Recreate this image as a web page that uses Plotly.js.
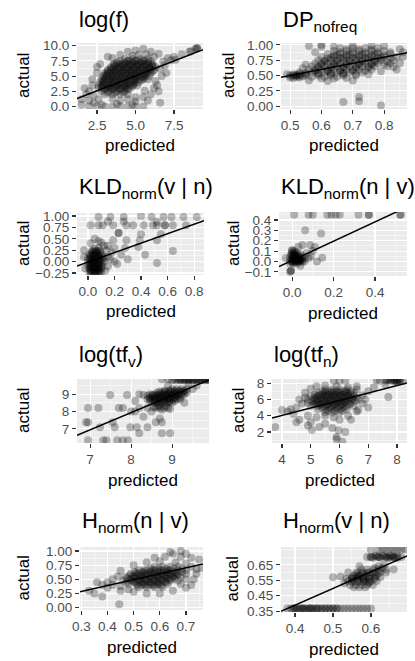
<!DOCTYPE html>
<html><head><meta charset="utf-8">
<script src="https://cdn.plot.ly/plotly-3.0.1.min.js"></script>
<style>html,body{margin:0;padding:0;background:#fff}#chart{width:415px;height:661px}</style>
</head><body><div id="chart"></div>
<script>
// ---------- DATA ----------
const panelTitles = ['log(f)', 'DP<sub>nofreq</sub>', 'KLD<sub>norm</sub>(v | n)', 'KLD<sub>norm</sub>(n | v)',
  'log(tf<sub>v</sub>)', 'log(tf<sub>n</sub>)', 'H<sub>norm</sub>(n | v)', 'H<sub>norm</sub>(v | n)'];
const xAxisLabel = 'predicted';
const yAxisLabel = 'actual';

// [predicted, actual] pairs
const logF = [
[4.0,7.5],[4.5,7.5],[5.0,7.5],[5.5,7.5],[6.0,7.5],
[3.6,7.0],[4.1,7.0],[4.6,7.0],[5.1,7.0],[5.6,7.0],[6.1,7.0],
[3.4,6.5],[3.9,6.5],[4.4,6.5],[4.9,6.5],[5.4,6.5],[5.9,6.5],[6.3,6.5],
[3.2,6.0],[3.7,6.0],[4.2,6.0],[4.7,6.0],[5.2,6.0],[5.7,6.0],[6.2,6.0],
[3.0,5.5],[3.5,5.5],[4.0,5.5],[4.5,5.5],[5.0,5.5],[5.5,5.5],[6.0,5.5],
[2.9,5.0],[3.4,5.0],[3.9,5.0],[4.4,5.0],[4.9,5.0],[5.4,5.0],[5.9,5.0],
[2.8,4.5],[3.3,4.5],[3.8,4.5],[4.3,4.5],[4.8,4.5],[5.3,4.5],[5.8,4.5],
[2.7,4.0],[3.2,4.0],[3.7,4.0],[4.2,4.0],[4.7,4.0],[5.2,4.0],
[2.6,3.5],[3.1,3.5],[3.6,3.5],[4.1,3.5],[4.6,3.5],[5.1,3.5],
[2.6,3.0],[3.1,3.0],[3.6,3.0],[4.1,3.0],[4.6,3.0],
[2.8,2.5],[3.3,2.5],[3.8,2.5],[4.3,2.5],
[3.0,2.0],[3.5,2.0],[4.0,2.0],[4.5,2.0],
[4.3,7.8],[4.8,7.8],[5.3,7.8],[5.8,7.8],
[3.8,7.3],[4.3,7.3],[4.8,7.3],[5.3,7.3],[5.8,7.3],
[3.6,6.8],[4.1,6.8],[4.6,6.8],[5.1,6.8],[5.6,6.8],[6.1,6.8],
[3.4,6.3],[3.9,6.3],[4.4,6.3],[4.9,6.3],[5.4,6.3],[5.9,6.3],
[3.2,5.8],[3.7,5.8],[4.2,5.8],[4.7,5.8],[5.2,5.8],[5.7,5.8],[6.1,5.8],
[3.1,5.3],[3.6,5.3],[4.1,5.3],[4.6,5.3],[5.1,5.3],[5.6,5.3],
[3.0,4.8],[3.5,4.8],[4.0,4.8],[4.5,4.8],[5.0,4.8],[5.5,4.8],
[2.9,4.3],[3.4,4.3],[3.9,4.3],[4.4,4.3],[4.9,4.3],[5.4,4.3],
[2.9,3.8],[3.4,3.8],[3.9,3.8],[4.4,3.8],[4.9,3.8],
[2.8,3.3],[3.3,3.3],[3.8,3.3],[4.3,3.3],[4.8,3.3],
[3.0,2.8],[3.5,2.8],[4.0,2.8],[4.5,2.8],
[3.2,2.3],[3.7,2.3],[4.2,2.3],
[4.55,7.55],[5.05,7.55],[5.55,7.55],
[3.85,7.05],[4.35,7.05],[4.85,7.05],[5.35,7.05],[5.85,7.05],
[3.65,6.55],[4.15,6.55],[4.65,6.55],[5.15,6.55],[5.65,6.55],[6.1,6.55],
[3.45,6.05],[3.95,6.05],[4.45,6.05],[4.95,6.05],[5.45,6.05],[5.95,6.05],
[3.25,5.55],[3.75,5.55],[4.25,5.55],[4.75,5.55],[5.25,5.55],[5.75,5.55],
[3.15,5.05],[3.65,5.05],[4.15,5.05],[4.65,5.05],[5.15,5.05],[5.65,5.05],
[3.05,4.55],[3.55,4.55],[4.05,4.55],[4.55,4.55],[5.05,4.55],[5.55,4.55],
[2.95,4.05],[3.45,4.05],[3.95,4.05],[4.45,4.05],[4.95,4.05],
[2.85,3.55],[3.35,3.55],[3.85,3.55],[4.35,3.55],[4.85,3.55],
[2.85,3.05],[3.35,3.05],[3.85,3.05],[4.35,3.05],
[9.0,9.6],[9.0,9.6],[8.9,9.5],[8.5,9.0],[8.6,9.1],[8.0,8.6],[7.6,7.7],[7.3,7.6],[7.1,8.0],[6.8,7.4],[7.5,8.2],
[6.6,0.6],[6.4,3.5],[6.5,2.5],[7.0,5.5],[6.9,6.8],[6.6,6.2],[6.7,5.0],[6.3,4.2],
[4.0,8.5],[4.5,9.0],[5.0,9.2],[5.5,9.5],[6.0,9.0],[6.5,8.7],[3.5,8.0],[5.2,8.5],[6.2,8.2],[3.2,8.2],[4.8,8.3],[5.7,8.6],
[2.0,0.0],[2.5,0.0],[3.0,0.0],[3.5,0.0],[4.0,0.0],[4.5,0.0],[5.0,0.0],[5.5,0.0],[2.8,0.3],[3.8,0.4],[4.8,0.3],
[1.5,1.2],[1.8,2.0],[2.0,2.5],[1.7,3.0],[2.2,3.5],[2.0,1.0],[2.3,0.6],[1.5,0.3],[2.2,4.5],[2.5,5.5],[2.5,6.5],[2.7,7.0],[2.3,1.8],[2.6,1.2],
[5.5,1.5],[6.0,2.0],[5.8,1.0],[6.2,3.0],[5.0,0.8],[5.0,1.5],[5.6,2.6],[4.5,1.2],[3.5,1.3],[4.0,1.0]
];
const logF_lineX = [1.2, 9.38], logF_lineY = [1.3, 9.34];

const dpNofreq = [
[0.66,0.95],[0.70,0.95],[0.74,0.95],[0.78,0.95],
[0.64,0.90],[0.68,0.90],[0.72,0.90],[0.76,0.90],[0.80,0.90],
[0.62,0.85],[0.66,0.85],[0.70,0.85],[0.74,0.85],[0.78,0.85],[0.82,0.85],
[0.60,0.80],[0.64,0.80],[0.68,0.80],[0.72,0.80],[0.76,0.80],[0.80,0.80],[0.84,0.80],
[0.59,0.75],[0.63,0.75],[0.67,0.75],[0.71,0.75],[0.75,0.75],[0.79,0.75],[0.83,0.75],
[0.58,0.70],[0.62,0.70],[0.66,0.70],[0.70,0.70],[0.74,0.70],[0.78,0.70],[0.82,0.70],
[0.57,0.65],[0.61,0.65],[0.65,0.65],[0.69,0.65],[0.73,0.65],[0.77,0.65],[0.81,0.65],
[0.56,0.60],[0.60,0.60],[0.64,0.60],[0.68,0.60],[0.72,0.60],[0.76,0.60],
[0.53,0.55],[0.57,0.55],[0.61,0.55],[0.65,0.55],[0.69,0.55],[0.73,0.55],
[0.50,0.50],[0.52,0.50],[0.55,0.50],[0.59,0.50],[0.63,0.50],[0.67,0.50],[0.71,0.50],
[0.51,0.46],[0.53,0.47],[0.60,0.45],[0.64,0.45],[0.68,0.46],
[0.68,0.93],[0.72,0.93],[0.76,0.93],
[0.66,0.88],[0.70,0.88],[0.74,0.88],[0.78,0.88],[0.82,0.88],
[0.64,0.83],[0.68,0.83],[0.72,0.83],[0.76,0.83],[0.80,0.83],
[0.62,0.78],[0.66,0.78],[0.70,0.78],[0.74,0.78],[0.78,0.78],[0.82,0.78],
[0.61,0.73],[0.65,0.73],[0.69,0.73],[0.73,0.73],[0.77,0.73],[0.81,0.73],
[0.60,0.68],[0.64,0.68],[0.68,0.68],[0.72,0.68],[0.76,0.68],[0.80,0.68],
[0.59,0.63],[0.63,0.63],[0.67,0.63],[0.71,0.63],[0.75,0.63],
[0.58,0.58],[0.62,0.58],[0.66,0.58],[0.70,0.58],[0.74,0.58],
[0.55,0.53],[0.59,0.53],[0.63,0.53],[0.67,0.53],[0.71,0.53],
[0.51,0.52],[0.53,0.52],[0.52,0.48],[0.54,0.49],[0.57,0.48],[0.61,0.48],[0.65,0.48],
[0.65,0.84],[0.69,0.84],[0.73,0.84],[0.77,0.84],
[0.63,0.79],[0.67,0.79],[0.71,0.79],[0.75,0.79],[0.79,0.79],
[0.61,0.74],[0.65,0.74],[0.69,0.74],[0.73,0.74],[0.77,0.74],
[0.60,0.69],[0.64,0.69],[0.68,0.69],[0.72,0.69],[0.76,0.69],
[0.59,0.64],[0.63,0.64],[0.67,0.64],[0.71,0.64],[0.75,0.64],
[0.58,0.59],[0.62,0.59],[0.66,0.59],[0.70,0.59],
[0.55,0.54],[0.59,0.54],[0.63,0.54],[0.67,0.54],
[0.51,0.50],[0.52,0.51],[0.53,0.50],
[0.67,0.07],[0.72,0.15],[0.72,0.08],[0.79,0.01],[0.60,0.97],[0.60,1.00],[0.84,0.60],[0.83,0.64],[0.86,0.80],[0.85,0.93],
[0.56,0.98],[0.70,0.99],[0.80,0.98],[0.76,0.99],[0.64,0.97],
[0.49,0.52],[0.50,0.47],[0.56,0.42],[0.62,0.41],[0.70,0.42],[0.75,0.52],[0.79,0.57],[0.85,0.70],[0.86,0.88],[0.58,0.88],[0.55,0.68],[0.54,0.62]
];
const dp_lineX = [0.471, 0.873], dp_lineY = [0.47, 0.87];

const kldVN = [
[0.01,-0.22],[0.04,-0.22],[0.07,-0.22],[0.10,-0.22],
[0.01,-0.15],[0.04,-0.15],[0.07,-0.15],[0.10,-0.15],
[0.00,-0.08],[0.03,-0.08],[0.06,-0.08],[0.09,-0.08],
[0.00,0.00],[0.03,0.00],[0.06,0.00],[0.09,0.00],[0.12,0.00],
[0.00,0.08],[0.03,0.08],[0.06,0.08],[0.09,0.08],[0.12,0.08],
[0.01,0.16],[0.04,0.16],[0.07,0.16],[0.10,0.16],
[0.03,0.24],[0.06,0.24],[0.09,0.24],
[0.025,-0.25],[0.055,-0.25],[0.085,-0.25],
[0.025,-0.19],[0.055,-0.19],[0.085,-0.19],
[0.015,-0.11],[0.045,-0.11],[0.075,-0.11],[0.105,-0.11],
[0.015,-0.04],[0.045,-0.04],[0.075,-0.04],[0.105,-0.04],
[0.015,0.04],[0.045,0.04],[0.075,0.04],[0.105,0.04],
[0.02,0.12],[0.05,0.12],[0.08,0.12],[0.11,0.12],
[0.03,0.20],[0.06,0.20],[0.09,0.20],
[0.05,0.28],[0.08,0.30],
[0.02,-0.24],[0.05,-0.24],[0.08,-0.24],[0.02,-0.17],[0.05,-0.17],[0.08,-0.17],
[0.02,-0.10],[0.05,-0.10],[0.08,-0.10],[0.02,-0.02],[0.05,-0.02],[0.08,-0.02],
[0.02,0.06],[0.05,0.06],[0.08,0.06],[0.02,0.14],[0.05,0.14],[0.08,0.14],[0.04,0.22],[0.07,0.22],
[0.15,0.10],[0.18,0.20],[0.20,0.00],[0.12,0.35],[0.08,0.45],[0.05,0.50],[0.15,-0.10],[0.20,0.30],[0.25,0.15],[0.02,0.40],
[-0.03,0.10],[0.13,-0.20],[0.22,-0.05],[-0.02,-0.15],[0.14,0.25],[0.17,0.05],[0.10,0.42],[0.28,0.30],[0.30,0.05],[-0.03,0.25],
[0.08,0.98],[0.17,0.98],[0.27,0.98],[0.40,1.00],[0.48,0.98],[0.57,0.98],[0.63,0.98],[0.72,0.98],[0.82,0.98],
[0.02,0.80],[0.08,0.80],[0.11,0.80],[0.19,0.80],[0.29,0.80],[0.34,0.80],[0.42,0.80],[0.49,0.80],[0.52,0.80],[0.58,0.80],[0.58,0.80],[0.64,0.80],[0.74,0.80],
[0.15,0.88],[0.27,0.88],[0.52,0.87],[0.23,0.63],[0.23,0.63],[0.40,0.60],[0.55,0.60],
[0.19,0.47],[0.29,0.47],[0.39,0.47],[0.52,0.47],[0.43,0.15],[0.52,-0.03],[0.64,0.23],[0.15,0.35],[0.38,0.32]
];
const kldVN_lineX = [-0.083, 0.875], kldVN_lineY = [-0.096, 0.897];

const kldNV = [
[-0.01,-0.02],[0.005,-0.02],[0.02,-0.02],[0.035,-0.01],[0.05,0.0],
[-0.01,0.01],[0.005,0.01],[0.02,0.01],[0.035,0.01],[0.05,0.02],[0.06,0.03],
[-0.01,0.04],[0.005,0.04],[0.02,0.04],[0.035,0.04],[0.05,0.05],
[-0.005,0.07],[0.01,0.07],[0.025,0.07],[0.04,0.07],
[0.0,0.10],[0.0,0.11],[0.01,0.10],[0.02,0.09],
[0.0,0.0],[0.015,0.0],[0.03,0.0],[0.0,0.025],[0.015,0.025],[0.03,0.025],[0.045,0.03],
[0.0,0.055],[0.015,0.055],[0.03,0.055],[0.01,0.085],[0.005,-0.005],[0.025,0.015],[0.04,0.02],
[0.0,0.0],[0.01,0.02],[0.02,0.03],[0.01,0.05],[0.0,0.08],[0.03,0.01],[0.02,0.0],[0.005,0.03],[0.04,0.01],[0.015,0.06],
[-0.005,-0.09],[-0.005,-0.09],[-0.01,-0.10],
[0.01,0.45],[0.08,0.45],[0.10,0.45],[0.17,0.45],[0.19,0.45],[0.21,0.45],[0.23,0.45],[0.32,0.45],[0.37,0.45],[0.37,0.45],[0.52,0.45],[0.525,0.45],
[0.063,0.30],[0.14,0.27],[0.05,0.16],[0.087,0.16],[0.145,0.035],[0.12,0.0],[0.06,0.0],[0.08,0.03],[0.10,0.10],[0.03,0.14],
[0.07,0.08],[0.04,-0.04],[-0.03,0.03],[0.09,0.05],[0.11,0.14]
];
const kldNV_lineX = [-0.063, 0.554], kldNV_lineY = [-0.049, 0.525];

const logTfV = [
[9.0,9.3],[9.12,9.3],[9.24,9.3],[9.36,9.3],
[8.64,9.1],[8.76,9.1],[8.88,9.1],[9.0,9.1],[9.12,9.1],[9.24,9.1],[9.36,9.1],
[8.4,8.9],[8.52,8.9],[8.64,8.9],[8.76,8.9],[8.88,8.9],[9.0,8.9],[9.12,8.9],[9.24,8.9],
[8.4,8.7],[8.52,8.7],[8.64,8.7],[8.76,8.7],[8.88,8.7],[9.0,8.7],[9.12,8.7],
[8.52,8.5],[8.64,8.5],[8.76,8.5],[8.88,8.5],[9.0,8.5],
[8.82,9.2],[8.94,9.2],[9.06,9.2],[9.18,9.2],[9.30,9.2],
[8.46,9.0],[8.58,9.0],[8.70,9.0],[8.82,9.0],[8.94,9.0],[9.06,9.0],[9.18,9.0],[9.30,9.0],
[8.46,8.8],[8.58,8.8],[8.70,8.8],[8.82,8.8],[8.94,8.8],[9.06,8.8],[9.18,8.8],
[8.46,8.6],[8.58,8.6],[8.70,8.6],[8.82,8.6],[8.94,8.6],[9.06,8.6],
[8.7,9.15],[8.82,9.15],[8.94,9.15],[9.06,9.15],[9.18,9.15],[9.3,9.15],
[8.52,8.95],[8.64,8.95],[8.76,8.95],[8.88,8.95],[9.0,8.95],[9.12,8.95],
[8.46,8.75],[8.58,8.75],[8.7,8.75],[8.82,8.75],[8.94,8.75],[9.06,8.75],
[8.58,8.55],[8.7,8.55],[8.82,8.55],[8.94,8.55],
[8.6,8.2],[8.7,8.2],[8.8,8.2],[8.9,8.2],[8.65,8.3],[8.75,8.1],[8.85,8.3],[8.95,8.15],[8.55,8.25],[8.7,8.35],
[9.0,9.8],[9.1,9.8],[9.2,9.8],[9.3,9.8],[9.4,9.8],[9.5,9.8],[9.6,9.8],[9.7,9.8],[9.8,9.8],[9.9,9.8],
[9.05,9.85],[9.15,9.85],[9.25,9.85],[9.35,9.85],[9.45,9.85],[9.55,9.85],[9.65,9.85],[9.75,9.85],[9.85,9.85],[8.9,9.85],[8.75,9.85],
[9.2,9.82],[9.3,9.82],[9.4,9.82],[9.5,9.82],[9.6,9.82],[9.7,9.82],[9.8,9.82],[9.9,9.82],
[7.49,8.95],[7.9,8.95],[8.3,8.95],[7.2,8.2],[7.7,8.2],[7.8,8.2],[8.2,8.2],[8.4,8.2],[8.0,8.0],[8.1,8.0],
[6.9,7.38],[6.95,7.38],[7.55,7.38],[8.6,7.38],[8.75,7.38],[7.24,7.1],[7.6,7.1],[7.98,7.1],[8.14,7.1],[8.4,7.1],
[8.2,6.75],[8.75,6.75],[8.95,6.75],[6.95,6.35],[7.32,6.35],[7.4,6.35],[7.66,6.35],[7.8,6.35],[7.93,6.35],[6.95,8.2],
[8.5,8.0],[8.7,7.6],[8.3,7.7],[9.3,8.5],[9.5,9.3],[9.6,9.5],[9.2,8.7],[8.1,8.6],[8.2,9.0],[9.4,9.6],[8.9,9.5]
];
const logTfV_lineX = [6.68, 9.9], logTfV_lineY = [6.63, 9.82];

const logTfN = [
[5.5,7.2],[5.75,7.2],[6.0,7.2],[6.25,7.2],
[5.25,6.8],[5.5,6.8],[5.75,6.8],[6.0,6.8],[6.25,6.8],[6.5,6.8],
[5.0,6.4],[5.25,6.4],[5.5,6.4],[5.75,6.4],[6.0,6.4],[6.25,6.4],[6.5,6.4],
[4.9,6.0],[5.15,6.0],[5.4,6.0],[5.65,6.0],[5.9,6.0],[6.15,6.0],[6.4,6.0],[6.65,6.0],
[4.9,5.6],[5.15,5.6],[5.4,5.6],[5.65,5.6],[5.9,5.6],[6.15,5.6],[6.4,5.6],
[5.0,5.2],[5.25,5.2],[5.5,5.2],[5.75,5.2],[6.0,5.2],[6.25,5.2],[6.5,5.2],
[5.25,4.8],[5.5,4.8],[5.75,4.8],[6.0,4.8],[6.25,4.8],
[5.5,4.4],[5.75,4.4],[6.0,4.4],
[5.4,7.0],[5.65,7.0],[5.9,7.0],[6.15,7.0],[6.4,7.0],
[5.15,6.6],[5.4,6.6],[5.65,6.6],[5.9,6.6],[6.15,6.6],[6.4,6.6],
[5.1,6.2],[5.35,6.2],[5.6,6.2],[5.85,6.2],[6.1,6.2],[6.35,6.2],[6.6,6.2],
[5.05,5.8],[5.3,5.8],[5.55,5.8],[5.8,5.8],[6.05,5.8],[6.3,5.8],[6.55,5.8],
[5.1,5.4],[5.35,5.4],[5.6,5.4],[5.85,5.4],[6.1,5.4],[6.35,5.4],
[5.4,5.0],[5.65,5.0],[5.9,5.0],[6.15,5.0],
[5.6,4.6],[5.85,4.6],[6.1,4.6],
[5.5,6.9],[5.75,6.9],[6.0,6.9],[6.25,6.9],
[5.3,6.5],[5.55,6.5],[5.8,6.5],[6.05,6.5],[6.3,6.5],
[5.2,6.1],[5.45,6.1],[5.7,6.1],[5.95,6.1],[6.2,6.1],[6.45,6.1],
[5.2,5.7],[5.45,5.7],[5.7,5.7],[5.95,5.7],[6.2,5.7],
[5.3,5.3],[5.55,5.3],[5.8,5.3],[6.05,5.3],
[4.5,5.0],[4.7,5.5],[4.3,4.8],[4.8,6.2],[4.9,4.0],[4.6,3.5],[5.0,3.2],[5.2,3.8],[4.6,6.0],[4.4,4.2],[4.2,4.5],[4.0,4.7],
[4.8,6.8],[5.0,7.3],[5.2,7.6],[5.5,7.7],[5.9,7.6],[6.3,7.5],[6.6,7.2],[6.8,6.5],[7.0,7.0],[6.9,6.0],[7.2,7.5],[7.0,5.0],
[6.6,7.6],[6.8,5.5],[6.6,4.5],[6.3,4.0],[5.8,3.8],[5.5,4.0],[6.0,3.5],
[3.76,2.6],[5.04,2.25],[5.3,2.6],[5.75,2.5],[5.97,2.2],[5.9,1.4],[5.9,1.1],[6.65,4.7],[6.4,3.5],[4.9,2.8],[5.5,3.0],[6.2,2.0],[6.1,0.8],[4.5,3.2],
[5.8,8.3],[6.0,8.3],[6.2,8.3],[7.4,8.3],[7.6,8.3],[7.8,8.4],[8.0,8.3],[8.1,8.4],[7.9,8.2],[7.7,8.4],[8.2,8.3],[7.3,8.35],
[7.8,8.35],[7.95,8.3],[8.1,8.3],[7.65,8.35],
[7.7,6.3],[7.6,7.8],[8.0,8.2],[7.9,8.4],[8.05,8.35]
];
const logTfN_lineX = [3.65, 8.35], logTfN_lineY = [3.72, 8.0];

const hNV = [
[0.58,0.72],[0.61,0.72],[0.64,0.72],[0.67,0.72],
[0.52,0.66],[0.55,0.66],[0.58,0.66],[0.61,0.66],[0.64,0.66],[0.67,0.66],[0.70,0.66],
[0.49,0.60],[0.52,0.60],[0.55,0.60],[0.58,0.60],[0.61,0.60],[0.64,0.60],[0.67,0.60],[0.70,0.60],
[0.47,0.54],[0.50,0.54],[0.53,0.54],[0.56,0.54],[0.59,0.54],[0.62,0.54],[0.65,0.54],[0.68,0.54],
[0.46,0.48],[0.49,0.48],[0.52,0.48],[0.55,0.48],[0.58,0.48],[0.61,0.48],[0.64,0.48],[0.67,0.48],
[0.48,0.42],[0.51,0.42],[0.54,0.42],[0.57,0.42],[0.60,0.42],[0.63,0.42],
[0.52,0.36],[0.55,0.36],[0.58,0.36],[0.61,0.36],
[0.565,0.69],[0.595,0.69],[0.625,0.69],[0.655,0.69],[0.685,0.69],
[0.505,0.63],[0.535,0.63],[0.565,0.63],[0.595,0.63],[0.625,0.63],[0.655,0.63],[0.685,0.63],
[0.485,0.57],[0.515,0.57],[0.545,0.57],[0.575,0.57],[0.605,0.57],[0.635,0.57],[0.665,0.57],
[0.475,0.51],[0.505,0.51],[0.535,0.51],[0.565,0.51],[0.595,0.51],[0.625,0.51],[0.655,0.51],
[0.475,0.45],[0.505,0.45],[0.535,0.45],[0.565,0.45],[0.595,0.45],[0.625,0.45],
[0.515,0.39],[0.545,0.39],[0.575,0.39],[0.605,0.39],
[0.54,0.66],[0.57,0.66],[0.60,0.66],[0.63,0.66],
[0.51,0.61],[0.54,0.61],[0.57,0.61],[0.60,0.61],[0.63,0.61],[0.66,0.61],
[0.50,0.56],[0.53,0.56],[0.56,0.56],[0.59,0.56],[0.62,0.56],[0.65,0.56],
[0.49,0.51],[0.52,0.51],[0.55,0.51],[0.58,0.51],[0.61,0.51],[0.64,0.51],
[0.50,0.46],[0.53,0.46],[0.56,0.46],[0.59,0.46],[0.62,0.46],
[0.53,0.41],[0.56,0.41],[0.59,0.41],
[0.65,0.95],[0.68,1.0],[0.62,0.9],[0.72,0.88],[0.70,0.95],[0.75,0.85],[0.33,0.30],[0.35,0.25],[0.38,0.20],[0.40,0.35],
[0.42,0.40],[0.45,0.38],[0.36,0.45],[0.445,0.06],[0.60,0.25],[0.65,0.30],[0.70,0.35],[0.72,0.40],[0.55,0.25],[0.50,0.28],
[0.74,0.60],[0.76,0.70],[0.73,0.50],[0.44,0.55],[0.42,0.50],[0.40,0.45],[0.38,0.40],[0.45,0.65],[0.50,0.75],[0.55,0.80],
[0.60,0.82],[0.66,0.80],[0.70,0.78],[0.72,0.72],[0.74,0.68],[0.45,0.30],[0.48,0.32],[0.68,0.42],[0.70,0.50],[0.58,0.88],
[0.64,0.98],[0.68,0.90]
];
const hNV_lineX = [0.295, 0.765], hNV_lineY = [0.28, 0.77];

const hVN = [
[0.38,0.367],[0.39,0.367],[0.40,0.367],[0.41,0.367],[0.42,0.367],[0.43,0.367],[0.44,0.367],[0.45,0.367],[0.46,0.367],[0.47,0.367],
[0.48,0.367],[0.49,0.367],[0.50,0.367],[0.51,0.367],[0.52,0.367],[0.53,0.367],[0.54,0.367],[0.55,0.367],[0.56,0.367],[0.57,0.367],
[0.58,0.367],[0.59,0.367],[0.60,0.367],[0.395,0.367],[0.405,0.367],[0.415,0.367],[0.425,0.367],[0.435,0.367],[0.445,0.367],[0.455,0.367],
[0.47,0.367],[0.49,0.367],[0.51,0.367],[0.40,0.37],[0.42,0.37],[0.44,0.37],[0.46,0.37],[0.48,0.37],[0.50,0.37],
[0.575,0.62],[0.59,0.62],[0.605,0.62],[0.62,0.62],
[0.56,0.595],[0.575,0.595],[0.59,0.595],[0.605,0.595],[0.62,0.595],
[0.55,0.57],[0.565,0.57],[0.58,0.57],[0.595,0.57],[0.61,0.57],[0.625,0.57],
[0.54,0.545],[0.555,0.545],[0.57,0.545],[0.585,0.545],[0.60,0.545],[0.615,0.545],
[0.545,0.52],[0.56,0.52],[0.575,0.52],[0.59,0.52],[0.605,0.52],
[0.555,0.505],[0.57,0.505],[0.585,0.505],[0.565,0.58],[0.58,0.555],[0.595,0.53],[0.55,0.56],
[0.565,0.60],[0.58,0.60],[0.595,0.60],[0.61,0.60],[0.555,0.58],[0.57,0.58],[0.585,0.58],[0.60,0.58],[0.615,0.58],
[0.55,0.56],[0.565,0.56],[0.58,0.56],[0.595,0.56],[0.61,0.56],[0.55,0.54],[0.565,0.54],[0.58,0.54],[0.595,0.54],
[0.63,0.63],[0.62,0.64],[0.61,0.63],[0.635,0.65],[0.64,0.62],[0.625,0.605],
[0.59,0.70],[0.60,0.70],[0.61,0.705],[0.62,0.70],[0.63,0.705],[0.64,0.70],[0.65,0.705],[0.66,0.70],[0.67,0.705],[0.68,0.70],
[0.605,0.695],[0.625,0.695],[0.645,0.695],[0.665,0.695],[0.615,0.71],[0.635,0.71],[0.655,0.71],
[0.60,0.70],[0.62,0.70],[0.64,0.70],[0.66,0.70],[0.65,0.695],[0.67,0.695],
[0.60,0.748],[0.62,0.748],[0.63,0.75],[0.64,0.748],[0.65,0.75],[0.66,0.748],[0.67,0.748],[0.68,0.748],[0.69,0.75],
[0.50,0.57],[0.52,0.575],[0.535,0.56],[0.54,0.60],[0.64,0.60],[0.66,0.62],[0.53,0.53],[0.57,0.64]
];
const hVN_lineX = [0.363, 0.695], hVN_lineY = [0.35, 0.708];

// tick values per panel
const logF_xTicks = [2.5, 5.0, 7.5], logF_yTicks = [0, 2.5, 5, 7.5, 10];
const dp_xTicks = [0.5, 0.6, 0.7, 0.8], dp_yTicks = [0, 0.25, 0.5, 0.75, 1];
const kldVN_xTicks = [0, 0.2, 0.4, 0.6, 0.8], kldVN_yTicks = [-0.25, 0, 0.25, 0.5, 0.75, 1];
const kldNV_xTicks = [0, 0.2, 0.4], kldNV_yTicks = [-0.1, 0, 0.1, 0.2, 0.3, 0.4];
const logTfV_xTicks = [7, 8, 9], logTfV_yTicks = [7, 8, 9];
const logTfN_xTicks = [4, 5, 6, 7, 8], logTfN_yTicks = [2, 4, 6, 8];
const hNV_xTicks = [0.3, 0.4, 0.5, 0.6, 0.7], hNV_yTicks = [0, 0.25, 0.5, 0.75, 1];
const hVN_xTicks = [0.4, 0.5, 0.6], hVN_yTicks = [0.35, 0.45, 0.55, 0.65];

// ---------- LAYOUT / STYLE ----------
const W = 415, H = 661;
const panels = [
  {pts: logF, lx: logF_lineX, ly: logF_lineY, xt: logF_xTicks, yt: logF_yTicks, xf: '.1f', yf: '.1f', xm: 1.25, ym: 1.25,
   box: [77, 203, 43, 109], xr: [1.2, 9.38], yr: [-0.42, 10.45], titleTop: 5, actualX: 23},
  {pts: dpNofreq, lx: dp_lineX, ly: dp_lineY, xt: dp_xTicks, yt: dp_yTicks, xf: '.1f', yf: '.2f', xm: 0.05, ym: 0.125,
   box: [281, 407, 43, 109], xr: [0.471, 0.873], yr: [-0.045, 1.03], titleTop: 5, actualX: 228},
  {pts: kldVN, lx: kldVN_lineX, ly: kldVN_lineY, xt: kldVN_xTicks, yt: kldVN_yTicks, xf: '.1f', yf: '.2f', xm: 0.1, ym: 0.125,
   box: [77, 204, 213, 275], xr: [-0.083, 0.875], yr: [-0.294, 1.066], titleTop: 172, actualX: 23},
  {pts: kldNV, lx: kldNV_lineX, ly: kldNV_lineY, xt: kldNV_xTicks, yt: kldNV_yTicks, xf: '.1f', yf: '.1f', xm: 0.1, ym: 0.05,
   box: [279, 407, 212, 276], xr: [-0.063, 0.554], yr: [-0.14, 0.477], titleTop: 172, actualX: 233},
  {pts: logTfV, lx: logTfV_lineX, ly: logTfV_lineY, xt: logTfV_xTicks, yt: logTfV_yTicks, xf: 'd', yf: 'd', xm: 0.5, ym: 0.5,
   box: [77, 209, 379, 443], xr: [6.68, 9.9], yr: [6.19, 9.87], titleTop: 340, actualX: 23},
  {pts: logTfN, lx: logTfN_lineX, ly: logTfN_lineY, xt: logTfN_xTicks, yt: logTfN_yTicks, xf: 'd', yf: 'd', xm: 0.5, ym: 1,
   box: [272, 407, 379, 443], xr: [3.65, 8.35], yr: [0.65, 8.5], titleTop: 340, actualX: 238},
  {pts: hNV, lx: hNV_lineX, ly: hNV_lineY, xt: hNV_xTicks, yt: hNV_yTicks, xf: '.1f', yf: '.2f', xm: 0.05, ym: 0.125,
   box: [80, 203, 547, 610], xr: [0.295, 0.765], yr: [-0.04, 1.07], titleTop: 506, actualX: 23},
  {pts: hVN, lx: hVN_lineX, ly: hVN_lineY, xt: hVN_xTicks, yt: hVN_yTicks, xf: '.1f', yf: '.2f', xm: 0.05, ym: 0.05,
   box: [281, 407, 547, 612], xr: [0.363, 0.695], yr: [0.345, 0.765], titleTop: 506, actualX: 232}
];

const FONT = 'Liberation Sans, Arial, sans-serif';
const traces = [], annotations = [];
const layout = {
  width: W, height: H, margin: {l: 0, r: 0, t: 0, b: 0},
  paper_bgcolor: '#ffffff', plot_bgcolor: '#EBEBEB', showlegend: false,
  font: {family: FONT, color: '#000000'}
};

panels.forEach((p, i) => {
  const n = i + 1, sx = n === 1 ? '' : String(n);
  const [x0, x1, y0, y1] = p.box;
  const axBase = {
    showgrid: true, gridcolor: '#FFFFFF', gridwidth: 1.1, zeroline: false, showline: false,
    ticks: 'outside', ticklen: 4, tickwidth: 1.1, tickcolor: '#333333',
    tickfont: {family: FONT, size: 13.5, color: '#4D4D4D'}, tickmode: 'array', fixedrange: true
  };
  layout['xaxis' + sx] = Object.assign({}, axBase, {
    domain: [x0 / W, x1 / W], range: p.xr, anchor: 'y' + sx, tickvals: p.xt, tickformat: p.xf,
    minor: {dtick: p.xm, tick0: 0, showgrid: true, gridcolor: '#FFFFFF', gridwidth: 0.5, ticks: ''}
  });
  layout['yaxis' + sx] = Object.assign({}, axBase, {
    domain: [1 - y1 / H, 1 - y0 / H], range: p.yr, anchor: 'x' + sx, tickvals: p.yt, tickformat: p.yf,
    minor: {dtick: p.ym, tick0: 0, showgrid: true, gridcolor: '#FFFFFF', gridwidth: 0.5, ticks: ''}
  });
  traces.push({
    type: 'scatter', mode: 'markers', xaxis: 'x' + sx, yaxis: 'y' + sx,
    x: p.pts.map(d => d[0]), y: p.pts.map(d => d[1]),
    marker: {size: 8, color: '#000000', opacity: 0.27, line: {width: 0}}, hoverinfo: 'skip'
  });
  traces.push({
    type: 'scatter', mode: 'lines', xaxis: 'x' + sx, yaxis: 'y' + sx,
    x: p.lx, y: p.ly, line: {color: '#000000', width: 1.5}, hoverinfo: 'skip'
  });
  annotations.push({
    text: panelTitles[i], xref: 'paper', yref: 'paper', x: x0 / W, y: 1 - p.titleTop / H,
    xanchor: 'left', yanchor: 'top', showarrow: false, font: {family: FONT, size: 22, color: '#000000'}
  });
  annotations.push({
    text: yAxisLabel, xref: 'paper', yref: 'paper', x: p.actualX / W, y: 1 - ((y0 + y1) / 2) / H,
    xanchor: 'center', yanchor: 'middle', textangle: -90, showarrow: false, font: {family: FONT, size: 17, color: '#000000'}
  });
  annotations.push({
    text: xAxisLabel, xref: 'paper', yref: 'paper', x: ((x0 + x1) / 2) / W, y: 1 - (y1 + 37) / H,
    xanchor: 'center', yanchor: 'middle', showarrow: false, font: {family: FONT, size: 17, color: '#000000'}
  });
});
layout.annotations = annotations;

Plotly.newPlot('chart', traces, layout, {staticPlot: true, displayModeBar: false});
</script>
</body></html>
